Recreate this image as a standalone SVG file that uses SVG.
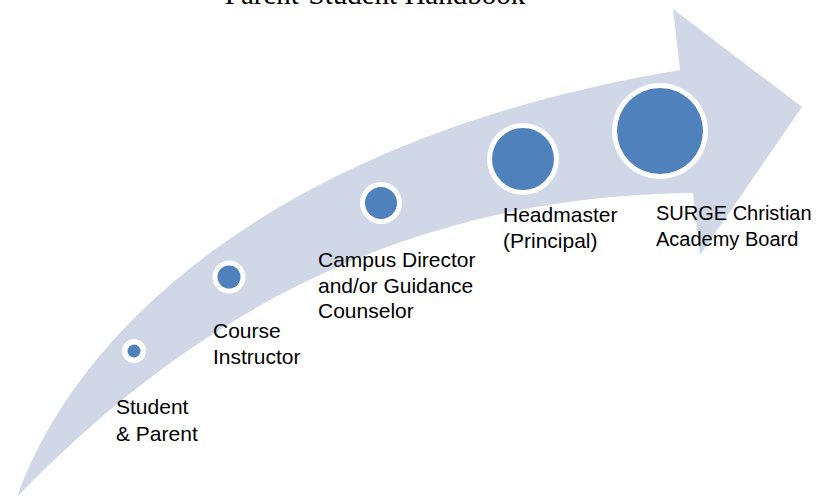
<svg xmlns="http://www.w3.org/2000/svg" width="817" height="498" viewBox="0 0 817 498">
<style>
.band{fill:#D0D8E8;stroke:none}
.ring{fill:#FFFFFF}
.dot{fill:#4F81BD}
.lbl{font-family:"Liberation Sans",Arial,sans-serif;font-size:21px;fill:#000000}
.lbl2{font-family:"Liberation Sans",Arial,sans-serif;font-size:20px;fill:#000000}
.title{font-family:"Liberation Serif","Times New Roman",serif;font-size:29px;fill:#000000}
</style>
<rect width="817" height="498" fill="#FFFFFF"/>
<text class="title" x="375" y="4" text-anchor="middle">Parent-Student Handbook</text>
<g id="connectors">
<path class="band" d="M17,497 C80,320 290,135 680,70 L673,9 L802,107 L700,255 L693,193 C475,195 240,265 17,497 Z"/>
</g>
<g id="node-student">
<circle class="ring" cx="134" cy="351" r="12"/>
<circle class="dot" cx="134" cy="351" r="6.5"/>
<text class="lbl" x="116" y="414">Student</text>
<text class="lbl" x="116" y="441">&amp; Parent</text>
</g>
<g id="node-course">
<circle class="ring" cx="229" cy="277" r="16.5"/>
<circle class="dot" cx="229" cy="277" r="11.5"/>
<text class="lbl" x="213" y="338">Course</text>
<text class="lbl" x="213" y="364">Instructor</text>
</g>
<g id="node-campus">
<circle class="ring" cx="381" cy="203" r="21"/>
<circle class="dot" cx="381" cy="203" r="16"/>
<text class="lbl" x="318" y="267">Campus Director</text>
<text class="lbl" x="318" y="293">and/or Guidance</text>
<text class="lbl" x="318" y="318">Counselor</text>
</g>
<g id="node-headmaster">
<circle class="ring" cx="523" cy="159" r="36"/>
<circle class="dot" cx="523" cy="159" r="31"/>
<text class="lbl" x="503" y="222">Headmaster</text>
<text class="lbl" x="503" y="248">(Principal)</text>
</g>
<g id="node-board">
<circle class="ring" cx="660" cy="131" r="48"/>
<circle class="dot" cx="660" cy="131" r="43"/>
<text class="lbl2" x="656" y="220">SURGE Christian</text>
<text class="lbl2" x="656" y="246">Academy Board</text>
</g>
</svg>
